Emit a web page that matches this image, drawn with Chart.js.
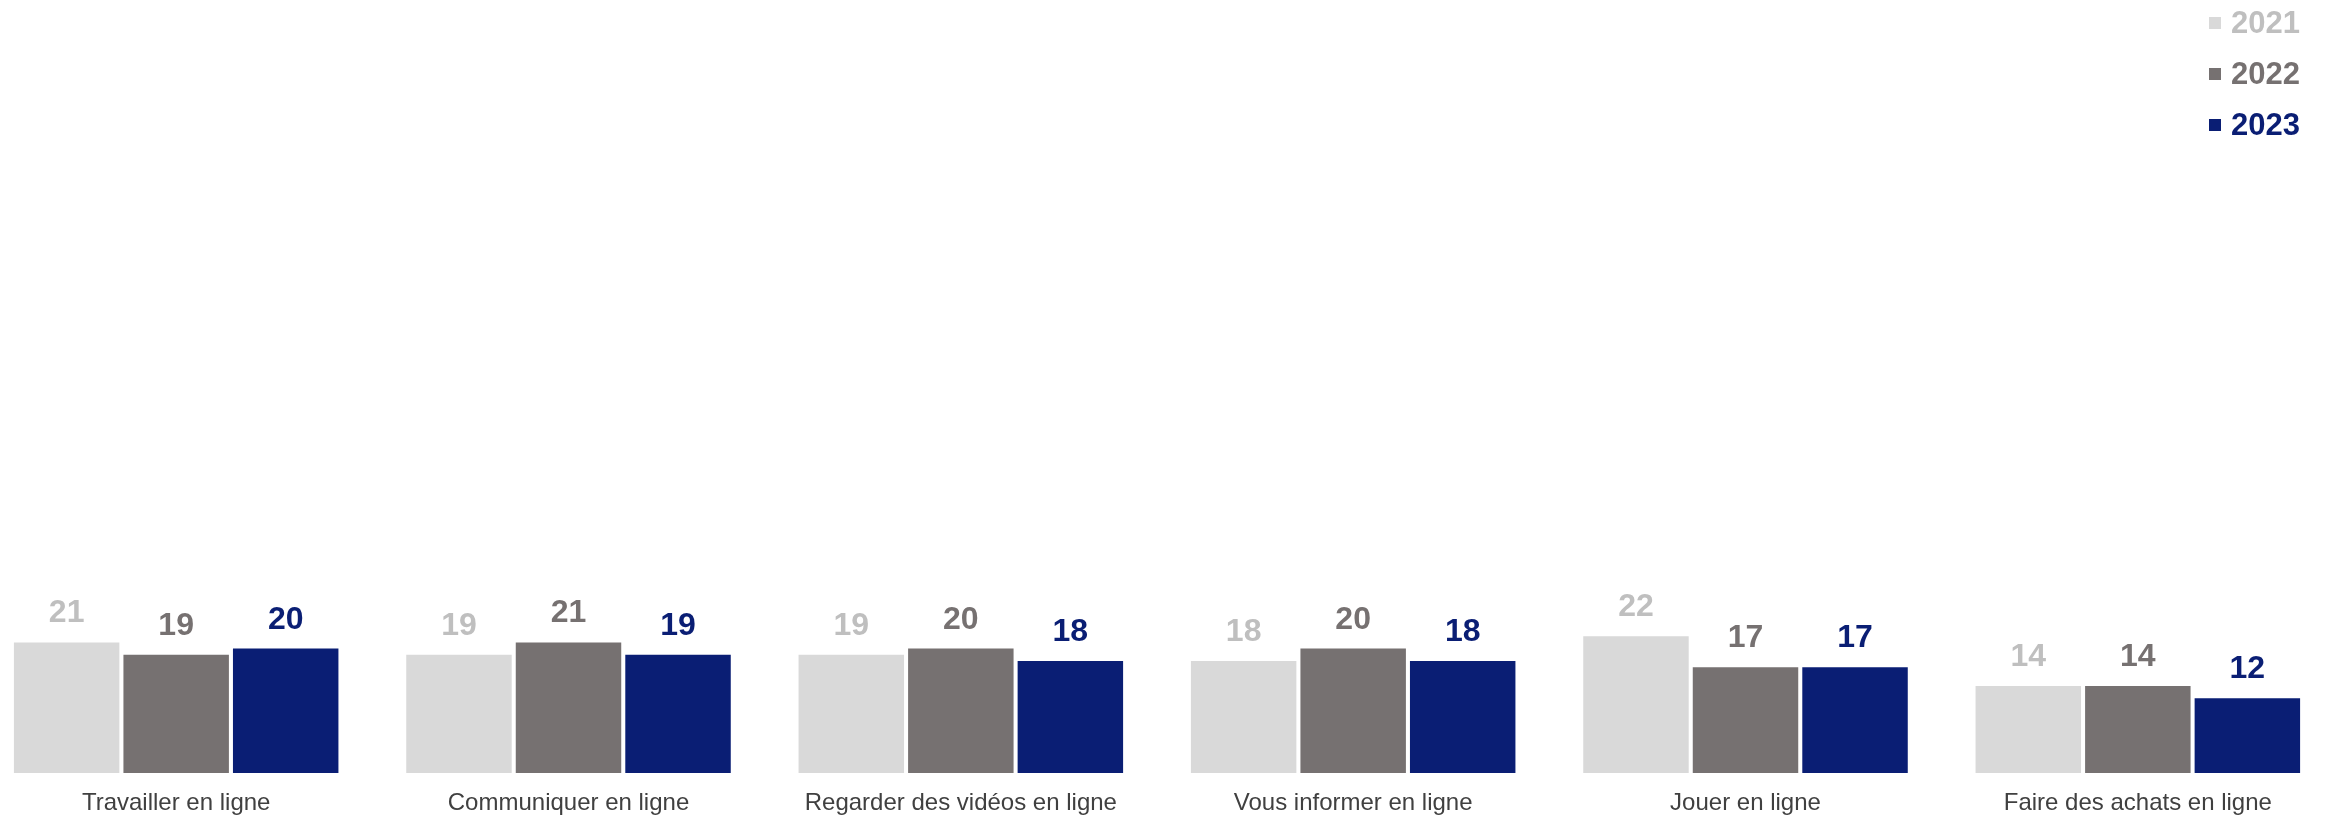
<!DOCTYPE html>
<html>
  <head>
    <style>
      html, body {
        margin: 0;
        padding: 0;
        background: #ffffff;
        overflow: hidden;
      }
      .wrap {
        position: relative;
        width: 2330px;
        height: 818px;
      }
      #usage {
        position: absolute;
        left: -20px;
        top: 0;
      }
      .legend {
        position: absolute;
        left: 2209px;
        top: 0;
        font-family: "Liberation Sans", Arial, sans-serif;
        font-weight: bold;
        font-size: 31px;
      }
      .legend div {
        position: absolute;
        left: 0;
        height: 34px;
        line-height: 34px;
        white-space: nowrap;
      }
      .legend span {
        display: inline-block;
        width: 12px;
        height: 12px;
        margin-right: 10px;
        vertical-align: 4px;
      }
    </style>
  </head>
  <body>
    <div class="wrap">
      <canvas id="usage" width="2354" height="818"></canvas>
      <div class="legend" id="legend"></div>
    </div>

    <script src="https://cdn.jsdelivr.net/npm/chart.js"></script>
    <script>
      const categories = [
        'Travailler en ligne',
        'Communiquer en ligne',
        'Regarder des vidéos en ligne',
        'Vous informer en ligne',
        'Jouer en ligne',
        'Faire des achats en ligne',
      ];
      const years = ['2021', '2022', '2023'];
      const values2021 = [21, 19, 19, 18, 22, 14];
      const values2022 = [19, 21, 20, 20, 17, 14];
      const values2023 = [20, 19, 18, 18, 17, 12];

      const barColors = ['#D9D9D9', '#767171', '#0A1E74'];
      const textColors = ['#BFBFBF', '#767171', '#0A1E74'];
      const font = '"Liberation Sans", Arial, sans-serif';

      // value above each bar
      const valueLabels = {
        id: 'valueLabels',
        afterDatasetsDraw(chart) {
          const ctx = chart.ctx;
          ctx.save();
          ctx.font = 'bold 32px ' + font;
          ctx.textAlign = 'center';
          ctx.textBaseline = 'alphabetic';
          chart.data.datasets.forEach((ds, i) => {
            ctx.fillStyle = textColors[i];
            chart.getDatasetMeta(i).data.forEach((bar, j) => {
              ctx.fillText(ds.data[j], bar.x, bar.y - 20);
            });
          });
          ctx.restore();
        },
      };

      const config = {
        type: 'bar',
        data: {
          labels: categories,
          datasets: [
            { label: years[0], data: values2021, backgroundColor: barColors[0] },
            { label: years[1], data: values2022, backgroundColor: barColors[1] },
            { label: years[2], data: values2023, backgroundColor: barColors[2] },
          ],
        },
        options: {
          responsive: false,
          animation: false,
          devicePixelRatio: 1,
          categoryPercentage: 0.8375,
          barPercentage: 0.963,
          layout: {
            padding: { top: 151, bottom: 0, left: 0, right: 0 },
          },
          plugins: {
            legend: { display: false },
            tooltip: { enabled: false },
          },
          scales: {
            x: {
              grid: { display: false, drawTicks: false },
              border: { display: false },
              afterFit(scale) {
                scale.height = 45;
              },
              ticks: {
                color: '#404040',
                padding: 17,
                font: { family: font, size: 24, lineHeight: 1.1 },
              },
            },
            y: {
              display: false,
              min: 0,
              max: 100,
            },
          },
        },
        plugins: [valueLabels],
      };

      const chart = new Chart(document.getElementById('usage'), config);

      // legend, top right
      const legend = document.getElementById('legend');
      chart.data.datasets.forEach((ds, i) => {
        const row = document.createElement('div');
        row.style.top = (6 + i * 51) + 'px';
        row.style.color = textColors[i];
        const box = document.createElement('span');
        box.style.background = barColors[i];
        row.appendChild(box);
        row.appendChild(document.createTextNode(ds.label));
        legend.appendChild(row);
      });
    </script>
  </body>
</html>
